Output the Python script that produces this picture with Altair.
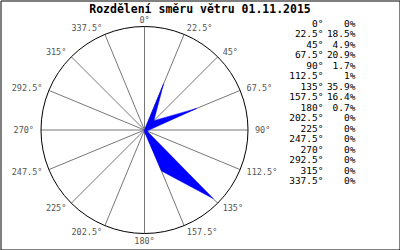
import math
import altair as alt
import pandas as pd

# ---- data ----
directions = [0, 22.5, 45, 67.5, 90, 112.5, 135, 157.5, 180, 202.5, 225, 247.5, 270, 292.5, 315, 337.5]
direction_labels = ["0°", "22.5°", "45°", "67.5°", "90°", "112.5°", "135°", "157.5°",
                    "180°", "202.5°", "225°", "247.5°", "270°", "292.5°", "315°", "337.5°"]
percent = [0, 18.5, 4.9, 20.9, 1.7, 1, 35.9, 16.4, 0.7, 0, 0, 0, 0, 0, 0, 0]
percent_labels = ["0%", "18.5%", "4.9%", "20.9%", "1.7%", "1%", "35.9%", "16.4%",
                  "0.7%", "0%", "0%", "0%", "0%", "0%", "0%", "0%"]
title_text = "Rozdělení směru větru 01.11.2015"

R_MAX = 38.3          # value reaching the outer circle
R_PX = 103.5          # outer circle radius in pixels
LABEL_R = R_MAX * (1 + 7 / R_PX)
MONO = "DejaVu Sans Mono"

df = pd.DataFrame({
    "idx": list(range(len(directions))),
    "direction": directions,
    "percent": percent,
    "dlabel": direction_labels,
    "plabel": percent_labels,
})
# closed polygon: repeat the first direction at the end
poly = pd.concat([df, df.iloc[[0]].assign(idx=len(directions))], ignore_index=True)

xs = alt.Scale(domain=[-R_MAX, R_MAX], range=[40.5, 247.5], nice=False, zero=False)
ys = alt.Scale(domain=[-R_MAX, R_MAX], range=[233, 26], nice=False, zero=False)

def polar(chart, value_expr, xname, yname):
    return chart.transform_calculate(
        rad="datum.direction * PI / 180"
    ).transform_calculate(
        **{xname: f"({value_expr}) * sin(datum.rad)", yname: f"({value_expr}) * cos(datum.rad)"}
    )

base = alt.Chart(df)

spokes = polar(base, str(R_MAX), "xe", "ye").transform_calculate(zero="0").mark_rule(
    color="#777777", strokeWidth=1
).encode(
    x=alt.X("zero:Q", scale=xs, axis=None),
    y=alt.Y("zero:Q", scale=ys, axis=None),
    x2="xe:Q",
    y2="ye:Q",
)

circle = base.transform_filter("datum.idx == 0").transform_calculate(zero="0").mark_arc(
    theta=0, theta2=2 * math.pi, fill="transparent", stroke="black", strokeWidth=1
).encode(
    x=alt.X("zero:Q", scale=xs, axis=None),
    y=alt.Y("zero:Q", scale=ys, axis=None),
    radius=alt.value(R_PX),
)

pbase = alt.Chart(poly)
shape = polar(pbase, "datum.percent", "px", "py").mark_line(
    fill="#0000ff", stroke="#0000ff", strokeWidth=0.5
).encode(
    x=alt.X("px:Q", scale=xs, axis=None),
    y=alt.Y("py:Q", scale=ys, axis=None),
    order="idx:Q",
)

def angle_labels(flt, align):
    return polar(base, str(LABEL_R), "lx", "ly").transform_filter(flt).mark_text(
        align=align, baseline="middle", font=MONO, fontSize=8.5, color="#555555"
    ).encode(
        x=alt.X("lx:Q", scale=xs, axis=None),
        y=alt.Y("ly:Q", scale=ys, axis=None),
        text="dlabel:N",
    )

lab_left = angle_labels("datum.direction > 0 && datum.direction < 180", "left")
lab_right = angle_labels("datum.direction > 180", "right")
lab_center = angle_labels("datum.direction == 0 || datum.direction == 180", "center")

ly = alt.Scale(domain=[0, 15], range=[23.5, 180.5], nice=False, zero=False)
leg_dir = base.mark_text(align="right", baseline="middle", font=MONO, fontSize=9.5, color="black").encode(
    x=alt.value(323),
    y=alt.Y("idx:Q", scale=ly, axis=None),
    text="dlabel:N",
)
leg_pct = base.mark_text(align="right", baseline="middle", font=MONO, fontSize=9.5, color="black").encode(
    x=alt.value(355),
    y=alt.Y("idx:Q", scale=ly, axis=None),
    text="plabel:N",
)

chart = alt.layer(
    spokes, circle, shape, lab_left, lab_right, lab_center, leg_dir, leg_pct
).resolve_scale(
    x="independent", y="independent"
).properties(
    width=399,
    height=249,
    autosize=alt.AutoSizeParams(type="none"),
    padding={"left": 0.5, "top": 0.5, "right": 0.5, "bottom": 0.5},
    background="white",
    title=alt.TitleParams(
        title_text, font=MONO, fontSize=11.5, fontWeight="bold", color="black",
        anchor="middle", offset=-26, baseline="bottom",
    ),
).configure_view(stroke="black", strokeWidth=1, fill="white")

chart.save("out.html", embed_options={"renderer": "svg", "actions": False})
